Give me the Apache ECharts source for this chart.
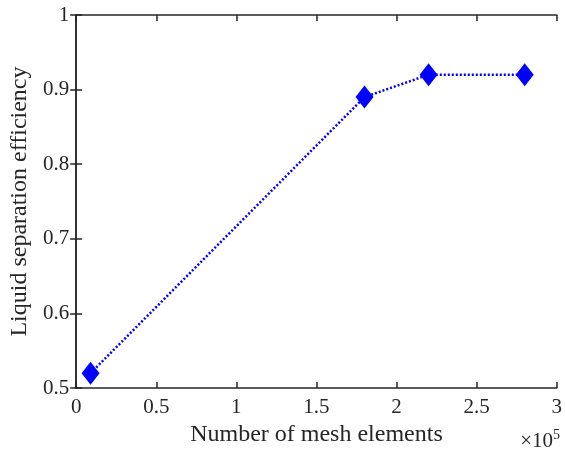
<!DOCTYPE html>
<html>
<head>
<meta charset="utf-8">
<script src="https://cdn.jsdelivr.net/npm/echarts@6/dist/echarts.min.js"></script>
<style>
html, body { margin: 0; padding: 0; background: #fff; }
#chart { width: 565px; height: 452px; }
</style>
</head>
<body>
<div id="chart"></div>
<script>
// mesh elements (x10^5) and liquid separation efficiency
const meshElements = [0.09, 1.8, 2.2, 2.8];
const efficiency = [0.52, 0.89, 0.92, 0.92];

const font = '"Liberation Serif", "Times New Roman", serif';
const axisColor = '#262626';

const chart = echarts.init(document.getElementById('chart'));
chart.setOption({
  animation: false,
  grid: { left: 74, right: 4, top: 15, bottom: 62 },
  xAxis: [
    {
      type: 'value',
      min: 0,
      max: 3,
      interval: 0.5,
      name: 'Number of mesh elements',
      nameLocation: 'middle',
      nameGap: 32,
      nameTextStyle: { fontFamily: font, fontSize: 24, color: axisColor },
      axisLine: { lineStyle: { color: axisColor, width: 1.5 } },
      axisTick: { inside: true, length: 6, lineStyle: { color: axisColor, width: 1.5 } },
      axisLabel: { fontFamily: font, fontSize: 21, color: axisColor, margin: 9 },
      splitLine: { show: false },
    },
    {
      type: 'value',
      position: 'top',
      min: 0,
      max: 3,
      interval: 0.5,
      axisLine: { show: true, lineStyle: { color: axisColor, width: 1.5 } },
      axisTick: { show: true, inside: true, length: 6, lineStyle: { color: axisColor, width: 1.5 } },
      axisLabel: { show: false },
      splitLine: { show: false },
    },
  ],
  yAxis: [
    {
      type: 'value',
      min: 0.5,
      max: 1,
      interval: 0.1,
      name: 'Liquid separation efficiency',
      nameLocation: 'middle',
      nameGap: 36,
      nameTextStyle: { fontFamily: font, fontSize: 24, color: axisColor },
      axisLine: { show: true, lineStyle: { color: axisColor, width: 1.5 } },
      axisTick: { show: true, inside: true, length: 6, lineStyle: { color: axisColor, width: 1.5 } },
      axisLabel: {
        fontFamily: font,
        fontSize: 21,
        color: axisColor,
        margin: 7,
        formatter(v) {
          return Math.abs(v - 1) < 1e-9 ? '1' : v.toFixed(1);
        },
      },
      splitLine: { show: false },
    },
    {
      type: 'value',
      position: 'right',
      min: 0.5,
      max: 1,
      interval: 0.1,
      axisLine: { show: true, lineStyle: { color: axisColor, width: 1.5 } },
      axisTick: { show: true, inside: true, length: 6, lineStyle: { color: axisColor, width: 1.5 } },
      axisLabel: { show: false },
      splitLine: { show: false },
    },
  ],
  graphic: [
    {
      type: 'text',
      x: 553,
      y: 452,
      style: {
        text: '×10',
        font: '21px "Liberation Serif", serif',
        fill: axisColor,
        align: 'right',
        verticalAlign: 'bottom',
      },
    },
    {
      type: 'text',
      x: 553,
      y: 428,
      style: {
        text: '5',
        font: '14px "Liberation Serif", serif',
        fill: axisColor,
        align: 'left',
        verticalAlign: 'top',
      },
    },
  ],
  series: [
    {
      type: 'line',
      data: meshElements.map((x, i) => [x, efficiency[i]]),
      symbol: 'diamond',
      symbolSize: [18, 23],
      itemStyle: { color: '#0000ff' },
      lineStyle: { color: '#0000ff', width: 2.5, type: [2, 2] },
    },
  ],
});
</script>
</body>
</html>
